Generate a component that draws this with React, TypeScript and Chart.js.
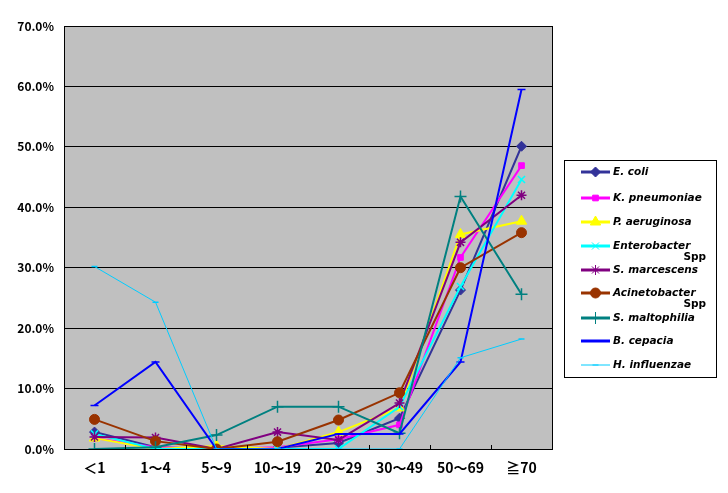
import React, { useRef, useEffect } from 'react';
import { Chart, registerables } from 'chart.js';
import { drawPoint } from 'chart.js/helpers';

Chart.register(...registerables);

// age groups
const ageGroups = ['＜1', '1～4', '5～9', '10～19', '20～29', '30～49', '50～69', '≧70'];

// share of isolates per age group (%)
const eColi = [2.8, 0.3, 0.0, 0.2, 1.0, 5.1, 26.3, 50.1];
const kPneumoniae = [1.8, 0.3, 0.0, 0.3, 1.6, 4.0, 31.7, 46.9];
const pAeruginosa = [1.8, 0.0, 0.5, 0.0, 2.8, 6.8, 35.5, 37.7];
const enterobacter = [2.5, 0.0, 0.0, 0.0, 0.0, 7.0, 26.9, 44.6];
const sMarcescens = [2.0, 1.9, 0.0, 2.8, 1.5, 7.6, 34.2, 42.0];
const acinetobacter = [4.9, 1.3, 0.0, 1.2, 4.8, 9.3, 30.0, 35.8];
const sMaltophilia = [0.0, 0.3, 2.3, 7.0, 7.0, 2.6, 41.8, 25.6];
const bCepacia = [7.2, 14.4, 0.0, 0.0, 2.5, 2.5, 14.4, 59.5];
const hInfluenzae = [30.2, 24.3, 0.0, 0.0, 0.0, 0.0, 15.1, 18.2];

const yTicks = [0, 10, 20, 30, 40, 50, 60, 70];

type Series = {
  name: string;
  sub?: string;
  data: number[];
  color: string;
  point: string;
  radius: number;
  width: number;
};

const series: Series[] = [
  { name: 'E. coli', data: eColi, color: '#333399', point: 'rectRot', radius: 5, width: 2 },
  { name: 'K. pneumoniae', data: kPneumoniae, color: '#FF00FF', point: 'rect', radius: 4, width: 2 },
  { name: 'P. aeruginosa', data: pAeruginosa, color: '#FFFF00', point: 'triangle', radius: 6, width: 2 },
  { name: 'Enterobacter', sub: 'Spp', data: enterobacter, color: '#00FFFF', point: 'crossRot', radius: 5, width: 2 },
  { name: 'S. marcescens', data: sMarcescens, color: '#800080', point: 'star', radius: 5, width: 2 },
  { name: 'Acinetobacter', sub: 'Spp', data: acinetobacter, color: '#993300', point: 'circle', radius: 5, width: 2 },
  { name: 'S. maltophilia', data: sMaltophilia, color: '#008080', point: 'cross', radius: 6, width: 2 },
  { name: 'B. cepacia', data: bCepacia, color: '#0000FF', point: 'line', radius: 4, width: 2 },
  { name: 'H. influenzae', data: hInfluenzae, color: '#00CCFF', point: 'line', radius: 3, width: 1 },
];

const FONT = '"Noto Sans CJK JP", "DejaVu Sans", sans-serif';
const LEGEND_FONT = 'italic bold 10.5px "DejaVu Sans", sans-serif';

const excelLook = {
  id: 'excelLook',
  beforeDraw(chart: any) {
    const { ctx, chartArea: a } = chart;
    ctx.save();
    ctx.fillStyle = '#FFFFFF';
    ctx.fillRect(0, 0, chart.width, chart.height);
    ctx.fillStyle = '#C0C0C0';
    ctx.fillRect(a.left, a.top, a.right - a.left, a.bottom - a.top);
    ctx.restore();
  },
  afterDraw(chart: any) {
    const { ctx, chartArea: a } = chart;
    ctx.save();
    ctx.strokeStyle = '#000000';
    ctx.lineWidth = 1;
    ctx.strokeRect(Math.round(a.left) + 0.5, Math.round(a.top) + 0.5, Math.round(a.right - a.left), Math.round(a.bottom - a.top));
    // inner tick marks between categories
    const step = (a.right - a.left) / ageGroups.length;
    for (let i = 1; i < ageGroups.length; i++) {
      const x = Math.round(a.left + step * i) + 0.5;
      ctx.beginPath();
      ctx.moveTo(x, a.bottom);
      ctx.lineTo(x, a.bottom - 4);
      ctx.stroke();
    }

    // legend box
    const bx = 564, by = 160, bw = 152, bh = 217;
    ctx.fillStyle = '#FFFFFF';
    ctx.fillRect(bx, by, bw, bh);
    ctx.strokeRect(bx + 0.5, by + 0.5, bw, bh);
    const rows = [172, 198, 222, 246, 270, 293, 318, 341, 365];
    ctx.font = LEGEND_FONT;
    ctx.textBaseline = 'middle';
    series.forEach((s, i) => {
      const y = rows[i];
      ctx.strokeStyle = s.color;
      ctx.lineWidth = s.width === 1 ? 1 : 3;
      ctx.beginPath();
      ctx.moveTo(581, y);
      ctx.lineTo(610, y);
      ctx.stroke();
      ctx.fillStyle = s.color;
      ctx.strokeStyle = s.color;
      ctx.lineWidth = 1;
      drawPoint(ctx, { pointStyle: s.point as any, radius: s.radius, rotation: 0, borderWidth: 1 }, 595.5, y);
      ctx.fillStyle = '#000000';
      ctx.textAlign = 'left';
      ctx.fillText(s.name, 613, y);
      if (s.sub) {
        ctx.font = 'bold 10.5px "DejaVu Sans", sans-serif';
        ctx.textAlign = 'right';
        ctx.fillText(s.sub, 706, y + 11);
        ctx.font = LEGEND_FONT;
      }
    });
    ctx.restore();
  },
};

const App: React.FC = () => {
  const canvasRef = useRef<HTMLCanvasElement | null>(null);
  const chartRef = useRef<Chart | null>(null);

  useEffect(() => {
    if (!canvasRef.current) return;
    const ctx = canvasRef.current.getContext('2d');
    if (!ctx) return;
    if (chartRef.current) chartRef.current.destroy();

    chartRef.current = new Chart(ctx, {
      type: 'line',
      data: {
        labels: ageGroups,
        datasets: series.map((s, i) => ({
          label: s.name,
          data: s.data,
          borderColor: s.color,
          backgroundColor: s.color,
          borderWidth: s.width,
          pointStyle: s.point as any,
          pointRadius: s.radius,
          pointBorderWidth: s.point === 'cross' || s.point === 'crossRot' || s.point === 'star' || s.point === 'line' ? 1.5 : 1,
          pointBorderColor: s.color,
          pointBackgroundColor: s.color,
          tension: 0,
          fill: false,
          order: series.length - i,
        })),
      },
      options: {
        animation: false,
        responsive: false,
        maintainAspectRatio: false,
        layout: { padding: { left: 0, top: 26, right: 176, bottom: 0 } },
        scales: {
          x: {
            offset: true,
            grid: { display: false },
            border: { display: true, color: '#000000', width: 1 },
            ticks: {
              color: '#000000',
              font: { family: FONT, size: 14, weight: 'bold' },
              padding: 2,
              maxRotation: 0,
              autoSkip: false,
            },
            afterFit: (scale: any) => { scale.height = 44; },
          },
          y: {
            min: 0,
            max: 70,
            afterBuildTicks: (scale: any) => { scale.ticks = yTicks.map(v => ({ value: v })); },
            grid: { color: '#000000', lineWidth: 1, drawTicks: false },
            border: { display: true, color: '#000000', width: 1 },
            ticks: {
              color: '#000000',
              font: { family: FONT, size: 12, weight: 'bold' },
              padding: 10,
              callback: (v: any) => `${Number(v).toFixed(1)}%`,
            },
            afterFit: (scale: any) => { scale.width = 64; },
          },
        },
        plugins: {
          legend: { display: false },
          tooltip: { enabled: false },
        },
      },
      plugins: [excelLook],
    });

    return () => {
      if (chartRef.current) {
        chartRef.current.destroy();
        chartRef.current = null;
      }
    };
  }, []);

  return (
    <div style={{ position: 'absolute', left: 0, top: 0, width: 728, height: 493, background: '#fff' }}>
      <canvas ref={canvasRef} width={728} height={493} style={{ width: 728, height: 493 }}></canvas>
    </div>
  );
};

export default App;
